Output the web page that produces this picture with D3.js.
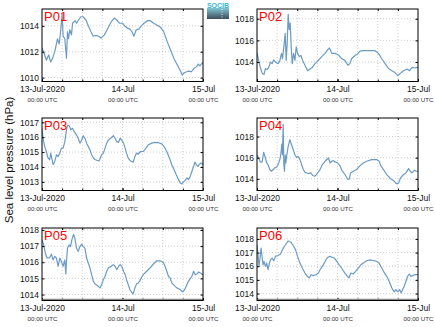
<!DOCTYPE html>
<html><head><meta charset="utf-8">
<script src="https://cdn.jsdelivr.net/npm/d3@7"></script>
<style>body{margin:0;background:#fff}svg{display:block;font-family:"Liberation Sans",Arial,sans-serif}</style>
</head><body><svg id="c" width="435" height="327"></svg>
<script>
// ---------------- data ----------------
const stations = ["P01", "P02", "P03", "P04", "P05", "P06"];
const startDate = "2020-07-13T00:00:00Z";
const endDate = "2020-07-15T00:00:00Z";
const xTickLabels = ["13-Jul-2020", "14-Jul", "15-Jul"];
const xSubLabel = "00:00 UTC";
const yTitle = "Sea level pressure (hPa)";
const logoText = "SOCIB";

const yDomains = [[1009.7, 1015.3], [1012.2, 1018.9], [1012.42, 1017.29], [1012.9, 1019.75], [1013.63, 1018.12], [1013.49, 1018.8]];
const yTicks = [[1010, 1012, 1014], [1014, 1016, 1018], [1013, 1014, 1015, 1016, 1017], [1014, 1016, 1018], [1014, 1015, 1016, 1017, 1018], [1014, 1015, 1016, 1017, 1018]];

// [hours since 13-Jul 00:00 UTC, hPa]
const p01 = [[0,1012.3],[0.6,1011.9],[1.3,1011.35],[2.0,1011.75],[2.6,1011.2],[3.3,1011.6],[3.9,1012.1],[4.6,1013.0],[5.1,1012.6],[5.6,1013.7],[6.0,1014.9],[6.3,1013.2],[6.8,1013.0],[7.3,1011.5],[7.6,1013.55],[7.9,1013.0],[8.3,1013.7],[8.8,1013.3],[9.1,1014.2],[9.9,1014.4],[10.3,1014.2],[10.9,1014.45],[11.6,1014.7],[12.3,1014.7],[13.1,1014.45],[13.9,1013.95],[14.6,1013.55],[15.3,1013.2],[16.1,1013.25],[16.9,1013.2],[17.6,1013.05],[18.6,1013.3],[19.6,1013.8],[20.6,1014.3],[21.6,1014.6],[22.3,1014.45],[23.1,1014.2],[24.1,1014.2],[24.6,1014.0],[25.6,1013.8],[26.2,1013.75],[26.8,1013.55],[27.4,1013.2],[28.1,1013.7],[28.9,1013.75],[29.6,1014.0],[30.4,1014.2],[31.4,1014.4],[32.3,1014.4],[33.3,1014.2],[34.3,1014.05],[35.3,1013.9],[36.3,1013.55],[37.3,1012.8],[38.3,1012.15],[39.3,1011.5],[40.3,1011.0],[41.1,1010.6],[41.8,1010.2],[42.3,1010.35],[43.1,1010.45],[43.8,1010.5],[44.5,1010.45],[45.3,1010.7],[46.1,1010.85],[46.6,1011.05],[47.1,1010.9],[47.8,1011.15],[48,1011.1]];
const p02 = [[0,1014.85],[0.5,1014.15],[1.0,1013.5],[1.6,1012.95],[2.1,1012.85],[2.5,1013.4],[3.0,1013.3],[3.5,1013.5],[4.0,1014.0],[4.5,1013.85],[5.0,1014.2],[5.5,1014.0],[6.3,1013.85],[6.8,1014.1],[7.3,1014.8],[7.6,1014.3],[8.0,1015.4],[8.4,1016.65],[8.7,1014.15],[9.0,1015.7],[9.3,1018.4],[9.6,1017.0],[9.9,1017.6],[10.2,1015.4],[10.5,1013.85],[10.9,1014.8],[11.3,1014.15],[11.7,1015.4],[12.1,1014.8],[12.6,1014.5],[13.1,1014.6],[13.6,1014.15],[14.3,1013.7],[15.1,1013.2],[15.8,1013.35],[16.5,1013.5],[17.3,1013.85],[18.3,1014.15],[19.3,1014.5],[20.3,1014.8],[21.1,1015.15],[21.6,1015.3],[22.3,1014.8],[23.3,1014.8],[24.3,1014.65],[25.3,1014.3],[26.2,1014.15],[27.1,1013.7],[27.7,1013.85],[28.2,1014.3],[29.2,1014.6],[30.0,1014.75],[30.7,1015.0],[31.7,1015.05],[33.2,1015.05],[34.4,1015.05],[35.2,1015.05],[36.2,1014.8],[37.2,1014.3],[38.2,1013.85],[39.2,1013.4],[40.2,1013.2],[41.2,1013.0],[42.0,1012.75],[42.7,1012.95],[43.7,1013.2],[44.7,1013.35],[45.5,1013.2],[46.2,1013.5],[47.0,1013.45],[47.7,1013.5],[48,1013.45]];
const p03 = [[0,1016.6],[0.3,1015.93],[0.8,1015.37],[1.3,1015.04],[1.8,1014.6],[2.3,1014.5],[2.6,1014.93],[3.0,1014.5],[3.3,1014.15],[3.8,1014.37],[4.3,1014.82],[4.8,1014.7],[5.3,1014.93],[5.8,1015.27],[6.3,1015.27],[6.8,1015.7],[7.3,1016.5],[7.6,1016.8],[8.1,1016.77],[8.6,1016.5],[9.1,1016.6],[9.6,1016.37],[10.3,1016.15],[10.8,1015.93],[11.3,1015.6],[11.8,1015.8],[12.3,1016.1],[12.8,1015.93],[13.3,1015.6],[13.8,1015.37],[14.3,1015.15],[14.8,1014.82],[15.3,1014.6],[15.8,1014.5],[16.3,1014.45],[17.0,1014.4],[17.8,1014.82],[18.3,1014.93],[18.8,1015.27],[19.3,1015.6],[19.8,1015.82],[20.5,1015.93],[21.3,1016.1],[21.8,1015.93],[22.3,1015.7],[22.8,1015.65],[23.3,1015.93],[23.8,1015.8],[24.3,1015.6],[24.8,1015.27],[25.2,1014.93],[25.7,1014.6],[26.4,1014.4],[27.2,1014.33],[27.7,1014.7],[28.2,1014.93],[28.7,1014.87],[29.4,1015.04],[30.2,1015.04],[31.0,1015.27],[31.7,1015.49],[32.7,1015.6],[33.7,1015.65],[34.7,1015.63],[35.7,1015.55],[36.4,1015.37],[37.2,1015.04],[38.0,1014.6],[38.7,1014.15],[39.4,1013.82],[40.0,1013.49],[40.7,1013.15],[41.2,1012.93],[41.7,1012.87],[42.2,1013.0],[42.7,1013.1],[43.2,1013.27],[43.7,1013.15],[44.2,1013.38],[44.7,1013.71],[45.2,1014.04],[45.6,1014.33],[46.0,1014.15],[46.5,1014.04],[47.0,1014.2],[47.5,1014.27],[48,1014.15]];
const p04 = [[0,1016.28],[0.5,1015.97],[1.0,1015.6],[1.5,1015.57],[2.0,1016.5],[2.5,1015.97],[2.9,1015.5],[3.3,1015.35],[3.8,1014.88],[4.3,1014.72],[4.8,1014.88],[5.3,1015.04],[5.8,1015.1],[6.3,1015.35],[6.8,1015.82],[7.1,1016.28],[7.4,1017.29],[7.6,1016.28],[7.8,1019.16],[8.0,1015.35],[8.2,1014.72],[8.4,1016.28],[8.6,1015.5],[8.9,1016.28],[9.3,1017.06],[9.8,1017.7],[10.3,1017.22],[10.8,1016.75],[11.3,1016.28],[11.8,1016.03],[12.3,1016.1],[12.8,1015.82],[13.3,1015.35],[13.8,1014.88],[14.3,1014.63],[15.3,1014.5],[16.0,1014.56],[16.6,1014.32],[17.3,1014.25],[18.1,1014.56],[18.8,1014.88],[19.5,1015.35],[20.3,1015.66],[21.3,1015.97],[21.8,1015.5],[22.3,1015.66],[22.8,1015.72],[23.3,1015.6],[24.1,1015.5],[24.8,1015.2],[25.2,1014.88],[26.2,1014.41],[27.1,1013.94],[27.5,1014.0],[27.9,1014.56],[28.7,1014.72],[29.7,1014.88],[30.7,1015.25],[31.7,1015.5],[32.7,1015.66],[34.2,1015.82],[35.7,1015.82],[36.4,1015.66],[37.0,1015.2],[37.7,1014.88],[38.7,1014.41],[39.7,1014.04],[40.7,1013.85],[41.5,1013.54],[42.2,1013.6],[42.8,1014.1],[43.7,1014.41],[44.4,1014.56],[45.2,1014.97],[45.7,1014.72],[46.2,1014.56],[46.9,1014.8],[47.5,1014.72],[48,1014.72]];
const p05 = [[0,1017.38],[0.5,1017.08],[1.0,1016.56],[1.5,1016.26],[2.3,1016.29],[2.8,1016.5],[3.3,1016.15],[3.8,1016.36],[4.3,1016.26],[4.8,1015.74],[5.3,1016.26],[5.8,1016.05],[6.3,1015.74],[6.8,1016.15],[7.1,1015.27],[7.3,1016.05],[7.6,1016.87],[8.1,1017.08],[8.5,1016.97],[8.9,1017.38],[9.4,1017.73],[9.8,1017.49],[10.3,1016.87],[10.8,1016.67],[11.3,1016.97],[11.8,1017.12],[12.3,1016.97],[12.8,1016.87],[13.3,1016.26],[13.8,1015.95],[14.3,1015.64],[14.8,1015.23],[15.3,1014.82],[15.8,1014.66],[16.6,1014.55],[17.3,1014.41],[17.8,1014.62],[18.3,1014.92],[18.8,1015.13],[19.3,1015.44],[19.8,1015.64],[20.5,1015.74],[21.3,1015.85],[21.8,1015.74],[22.3,1015.54],[22.8,1015.74],[23.3,1015.85],[23.8,1015.74],[24.3,1015.44],[24.8,1015.23],[25.2,1014.92],[25.7,1014.62],[26.2,1014.31],[26.7,1014.14],[27.2,1014.04],[27.7,1014.41],[28.2,1014.66],[28.7,1014.72],[29.2,1014.86],[29.7,1015.07],[30.2,1015.23],[31.2,1015.44],[32.2,1015.64],[33.2,1015.89],[34.2,1016.09],[35.2,1016.09],[36.2,1015.99],[36.7,1015.74],[37.2,1015.44],[37.7,1015.13],[38.2,1015.03],[38.7,1014.72],[39.4,1014.57],[40.2,1014.41],[41.2,1014.31],[42.0,1014.16],[42.7,1014.37],[43.4,1014.72],[44.0,1014.92],[44.7,1015.13],[45.2,1015.44],[45.7,1015.23],[46.2,1015.27],[46.7,1015.4],[47.2,1015.33],[48,1015.23]];
const p06 = [[0,1017.56],[0.3,1016.84],[0.6,1015.99],[0.9,1016.6],[1.2,1017.32],[1.5,1016.72],[1.8,1016.11],[2.1,1016.35],[2.5,1015.99],[2.9,1016.23],[3.3,1015.75],[3.6,1016.11],[4.0,1016.47],[4.5,1016.6],[5.0,1016.4],[5.5,1016.72],[6.3,1016.79],[7.0,1016.89],[7.8,1017.32],[8.6,1017.61],[9.3,1017.85],[10.1,1017.76],[10.8,1017.52],[11.5,1017.2],[12.1,1016.72],[12.8,1016.23],[13.5,1015.87],[14.3,1015.5],[15.0,1015.26],[15.6,1015.14],[16.1,1015.38],[16.8,1015.31],[17.6,1015.38],[18.3,1015.5],[18.8,1015.75],[19.5,1015.99],[20.3,1016.35],[21.0,1016.64],[21.8,1016.72],[22.5,1016.64],[23.1,1016.6],[23.8,1016.35],[24.5,1016.11],[25.2,1015.87],[26.2,1015.5],[27.0,1015.26],[27.4,1015.14],[28.0,1015.5],[28.7,1015.43],[29.4,1015.62],[30.2,1015.87],[31.0,1016.11],[31.7,1016.23],[32.7,1016.4],[33.7,1016.47],[34.7,1016.42],[35.7,1016.35],[36.4,1016.23],[37.2,1015.87],[38.0,1015.5],[38.7,1015.26],[39.4,1014.9],[40.2,1014.41],[40.9,1014.12],[41.4,1014.29],[42.0,1014.12],[42.5,1014.29],[43.0,1014.05],[43.4,1014.29],[43.9,1014.53],[44.4,1014.9],[44.9,1015.26],[45.4,1015.43],[45.9,1015.26],[46.4,1015.31],[47.0,1015.38],[48,1015.38]];
const seriesList = [p01, p02, p03, p04, p05, p06];

// ---------------- layout ----------------
const colX = [42, 257], plotW = 161;
const rowY = [9, 118, 228], plotH = 72.5;
const lineColor = "#6b9bc5";

const svg = d3.select("#c");
const t0 = new Date(startDate), t1 = new Date(endDate);
const hourMs = 3600 * 1000;

stations.forEach((name, i) => {
  const px = colX[i % 2], py = rowY[Math.floor(i / 2)];
  const g = svg.append("g").attr("transform", `translate(${px},${py})`);
  const x = d3.scaleUtc().domain([t0, t1]).range([0, plotW]);
  const y = d3.scaleLinear().domain(yDomains[i]).range([plotH, 0]);

  // grid
  const gridTimes = d3.utcHour.every(6).range(t0, t1).filter(d => +d > +t0);
  g.append("g").selectAll("line").data(gridTimes).join("line")
    .attr("x1", d => x(d)).attr("x2", d => x(d)).attr("y1", 0).attr("y2", plotH)
    .attr("stroke", "#c4c4c4").attr("stroke-width", 0.8).attr("stroke-dasharray", "1,2");
  g.append("g").selectAll("line").data(yTicks[i]).join("line")
    .attr("x1", 0).attr("x2", plotW).attr("y1", d => y(d)).attr("y2", d => y(d))
    .attr("stroke", "#c4c4c4").attr("stroke-width", 0.8).attr("stroke-dasharray", "1,2");

  // data line
  const clipId = "clip" + i;
  g.append("clipPath").attr("id", clipId).append("rect").attr("width", plotW).attr("height", plotH);
  const line = d3.line().x(d => x(new Date(+t0 + d[0] * hourMs))).y(d => y(d[1]));
  g.append("path").datum(seriesList[i]).attr("clip-path", `url(#${clipId})`)
    .attr("d", line).attr("fill", "none").attr("stroke", lineColor)
    .attr("stroke-width", 1.2).attr("stroke-linejoin", "round");

  // left axis
  const ya = g.append("g").call(d3.axisLeft(y).tickValues(yTicks[i]).tickSize(-2.5).tickPadding(3).tickFormat(d3.format("d")));
  ya.select(".domain").remove();
  ya.selectAll("text").attr("font-size", 8.5).attr("fill", "#111").attr("font-family", "Liberation Sans, Arial, sans-serif");
  // right axis ticks
  const yr = g.append("g").attr("transform", `translate(${plotW},0)`)
    .call(d3.axisRight(y).tickValues(yTicks[i]).tickSize(-2.5).tickFormat(""));
  yr.select(".domain").remove();

  // bottom axis
  const tickTimes = d3.utcDay.every(1).range(t0, new Date(+t1 + 1));
  const xa = g.append("g").attr("transform", `translate(0,${plotH})`)
    .call(d3.axisBottom(x).tickValues(tickTimes).tickSize(-2.5).tickPadding(4)
      .tickFormat((d, k) => xTickLabels[k]));
  xa.select(".domain").remove();
  xa.selectAll("text").attr("font-size", 8.5).attr("fill", "#111").attr("font-family", "Liberation Sans, Arial, sans-serif");
  xa.selectAll(".tick").append("text").attr("y", 16.5).attr("dy", "0.71em")
    .attr("fill", "#333").attr("font-size", 6.2).attr("text-anchor", "middle")
    .attr("font-family", "Liberation Sans, Arial, sans-serif").text(xSubLabel);
  // 6h minor ticks bottom/top
  const xt = g.append("g").attr("transform", `translate(0,${plotH})`)
    .call(d3.axisBottom(x).tickValues(gridTimes).tickSize(-2).tickFormat(""));
  xt.select(".domain").remove();
  const xtt = g.append("g").call(d3.axisTop(x).tickValues(gridTimes).tickSize(-2).tickFormat(""));
  xtt.select(".domain").remove();

  if (i >= 4) {
    g.append("line").attr("x1", 0).attr("x2", plotW).attr("y1", plotH - 1).attr("y2", plotH - 1)
      .attr("stroke", "#888").attr("stroke-width", 1.5);
  }
  // frame
  g.append("rect").attr("width", plotW).attr("height", plotH).attr("fill", "none")
    .attr("stroke", "#000").attr("stroke-width", 1);

  // station label
  g.append("text").attr("x", 2).attr("y", 11.5).attr("fill", "#ff0000")
    .attr("font-size", 13).text(name);
});

// y title
svg.append("text").attr("transform", "translate(13,160) rotate(-90)")
  .attr("text-anchor", "middle").attr("font-size", 11.5).attr("fill", "#111").text(yTitle);

// logo
const lg = svg.append("g").attr("transform", "translate(207,2)");
const grad = svg.append("defs").append("linearGradient").attr("id", "lg").attr("x1", 0).attr("x2", 0).attr("y1", 0).attr("y2", 1);
grad.append("stop").attr("offset", 0).attr("stop-color", "#7fc6d6");
grad.append("stop").attr("offset", 1).attr("stop-color", "#3d4c58");
lg.append("rect").attr("x", 0).attr("y", 6).attr("width", 22).attr("height", 11).attr("fill", "url(#lg)");
lg.append("line").attr("x1", 15).attr("x2", 15).attr("y1", 7).attr("y2", 16).attr("stroke", "#fff").attr("stroke-dasharray", "1,1.5").attr("stroke-width", 0.8);
lg.append("text").attr("x", 11).attr("y", 6).attr("text-anchor", "middle").attr("font-size", 7)
  .attr("fill", "#35b5d0").attr("font-weight", "bold").text(logoText);
</script></body></html>
